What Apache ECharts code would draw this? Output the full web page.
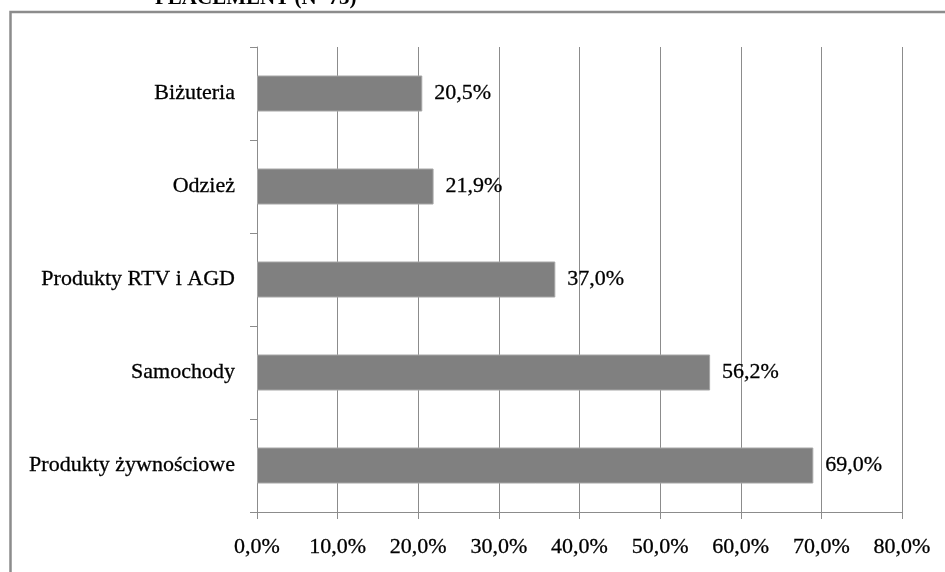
<!DOCTYPE html>
<html>
<head>
<meta charset="utf-8">
<script src="https://cdn.jsdelivr.net/npm/echarts@6/dist/echarts.min.js"></script>
<style>
html, body { margin: 0; padding: 0; background: #fff; }
#chart { width: 945px; height: 572px; }
</style>
</head>
<body>
<div id="chart"></div>
<script>
// dane
var categories = ['Biżuteria', 'Odzież', 'Produkty RTV i AGD', 'Samochody', 'Produkty żywnościowe'];
var values = [20.5, 21.9, 37.0, 56.2, 69.0];
var titleText = 'PLACEMENT (N=73)';

var font = 'Liberation Serif';
var fmt = function (v) { return v.toFixed(1).replace('.', ',') + '%'; };
// lekkie pogrubienie tekstu jak w oryginale
var txt = { color: '#000', fontSize: 22, fontFamily: font, textBorderColor: '#000', textBorderWidth: 0.3 };

var chart = echarts.init(document.getElementById('chart'));
chart.setOption({
    animation: false,
    textStyle: { fontFamily: font },
    title: {
        text: titleText,
        left: 155,
        top: -12,
        padding: 0,
        textStyle: { fontSize: 21, fontWeight: 'bold', fontFamily: font, color: '#000' }
    },
    graphic: [
        {
            type: 'rect',
            shape: { x: 10.5, y: 12, width: 1000, height: 1000 },
            style: { fill: 'none', stroke: '#8c8c8c', lineWidth: 2.5 }
        }
    ],
    grid: { left: 257, right: 43, top: 47, bottom: 60 },
    xAxis: {
        type: 'value',
        min: 0,
        max: 80,
        interval: 10,
        axisLine: { show: true, lineStyle: { color: '#8c8c8c', width: 1 } },
        axisTick: { show: true, length: 7, lineStyle: { color: '#8c8c8c' } },
        splitLine: { show: true, lineStyle: { color: '#8c8c8c', width: 1 } },
        axisLabel: Object.assign({ margin: 24, formatter: function (v) { return fmt(v); } }, txt)
    },
    yAxis: {
        type: 'category',
        inverse: true,
        data: categories,
        axisLine: { show: true, lineStyle: { color: '#8c8c8c', width: 1 } },
        axisTick: { show: true, length: 7, lineStyle: { color: '#8c8c8c' } },
        axisLabel: Object.assign({ margin: 22 }, txt)
    },
    series: [{
        type: 'bar',
        data: values,
        barWidth: 36,
        itemStyle: { color: '#808080', borderColor: '#a6a6a6', borderWidth: 1 },
        label: Object.assign({
            show: true,
            position: 'right',
            distance: 12,
            formatter: function (p) { return fmt(p.value); }
        }, txt)
    }]
});
</script>
</body>
</html>
